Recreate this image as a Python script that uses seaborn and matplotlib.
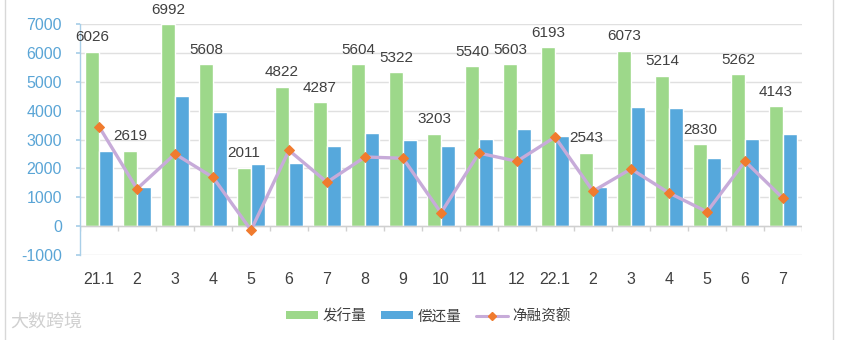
import numpy as np
import pandas as pd
import matplotlib
matplotlib.use("Agg")
import matplotlib.pyplot as plt
import seaborn as sns
from matplotlib.patches import Patch, Rectangle
from matplotlib.lines import Line2D

# ---- data ----
period_keys = ["21.1", "21.2", "21.3", "21.4", "21.5", "21.6", "21.7", "21.8", "21.9", "21.10",
               "21.11", "21.12", "22.1", "22.2", "22.3", "22.4", "22.5", "22.6", "22.7"]
tick_labels = ["21.1", "2", "3", "4", "5", "6", "7", "8", "9", "10",
               "11", "12", "22.1", "2", "3", "4", "5", "6", "7"]
issuance = [6026, 2619, 6992, 5608, 2011, 4822, 4287, 5604, 5322, 3203,
            5540, 5603, 6193, 2543, 6073, 5214, 2830, 5262, 4143]
repayment = [2590, 1360, 4490, 3950, 2150, 2190, 2790, 3225, 2995, 2790,
             3020, 3365, 3130, 1360, 4120, 4090, 2360, 3020, 3190]
net_financing = [3450, 1290, 2500, 1690, -140, 2625, 1520, 2395, 2350, 460,
                 2530, 2245, 3085, 1210, 1980, 1150, 495, 2245, 965]
series_names = ["发行量", "偿还量", "净融资额"]

GREEN = "#9dd88a"
BLUE = "#56a8dc"
PURPLE = "#c7abd9"
ORANGE = "#f07b2e"
AXBLUE = "#5aa5d6"
TXT = "#404040"

sns.set_theme(style="white")
plt.rcParams["font.family"] = ["Liberation Sans", "Noto Sans CJK SC", "DejaVu Sans"]

fig = plt.figure(figsize=(8.43, 3.4), dpi=100)
ax = fig.add_axes([80/843, 1-255/340, 722/843, 231/340])

df = pd.DataFrame({
    "period": period_keys * 2,
    "value": issuance + repayment,
    "series": [series_names[0]] * len(period_keys) + [series_names[1]] * len(period_keys),
})
sns.barplot(data=df, x="period", y="value", hue="series", order=period_keys,
            hue_order=series_names[:2], palette=[GREEN, BLUE], width=0.74,
            saturation=1, dodge=True, ax=ax, legend=False, errorbar=None)

xpos = np.arange(len(period_keys))
sns.lineplot(x=xpos, y=net_financing, ax=ax, color=PURPLE, lw=2.4, zorder=3,
             marker="D", markersize=5, markerfacecolor=ORANGE, markeredgecolor=ORANGE,
             legend=False)

# value labels above issuance bars
for i, v in enumerate(issuance):
    ax.annotate(f"{v}", (i - 0.185, v), xytext=(0, 5.5), textcoords="offset points",
                ha="center", va="bottom", fontsize=11, color=TXT, annotation_clip=False)

ax.set_xlim(-0.5, len(period_keys) - 0.5)
ax.set_ylim(-1000, 7000)
ax.set_yticks(np.arange(-1000, 7001, 1000))
ax.set_yticklabels([str(t) for t in range(-1000, 7001, 1000)], color=AXBLUE, fontsize=11.5)
ax.set_xticks(xpos)
ax.set_xticklabels(tick_labels, color=TXT, fontsize=11.5)
ax.set_xlabel("")
ax.set_ylabel("")
ax.grid(axis="y", color="#e0e0e0", lw=1)
ax.set_axisbelow(True)
for s in ["top", "right", "bottom"]:
    ax.spines[s].set_visible(False)
ax.spines["left"].set_color("#a9cfe8")
ax.spines["left"].set_linewidth(1)
ax.tick_params(axis="y", length=3, color="#a9cfe8", pad=10, left=True)
ax.tick_params(axis="x", length=0, pad=12)
ax.axhline(0, color="#d0d0d0", lw=1, zorder=1)
ax.vlines(np.arange(len(period_keys) + 1) - 0.5, -180, 0, color="#d0d0d0", lw=1, zorder=1)

# legend
handles = [Patch(facecolor=GREEN, edgecolor="none"),
           Patch(facecolor=BLUE, edgecolor="none"),
           Line2D([0], [0], color=PURPLE, lw=2.2, marker="D", markersize=4,
                  markerfacecolor=ORANGE, markeredgecolor=ORANGE)]
fig.legend(handles, series_names, loc="center", bbox_to_anchor=(0.508, 0.07), ncol=3,
           frameon=False, handlelength=2.2, handleheight=0.5,
           columnspacing=1.0, handletextpad=0.3, labelcolor=TXT,
           prop={"family": ["Noto Sans CJK SC", "DejaVu Sans"], "size": 10.5})

# panel frame
fig.add_artist(Rectangle((5/843, -0.01), (833-5)/843, 1.2, transform=fig.transFigure,
                         fill=False, edgecolor="#d8d8d8", lw=1))
# watermark
fig.text(10/843, 1-322/340, "大数跨境", fontsize=13, color="#d0d0d0", va="center",
         family=["Noto Sans CJK SC", "DejaVu Sans"])

fig.savefig("out.png", dpi=100)
